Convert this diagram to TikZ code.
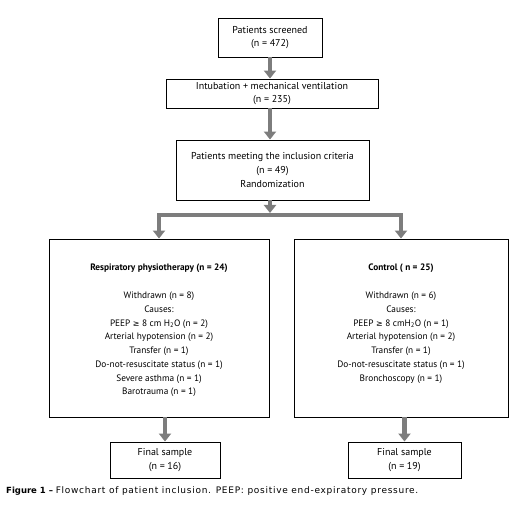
\documentclass[tikz,border=0pt]{standalone}
\usepackage{fontspec}
\setmainfont{PT Sans}
\newfontfamily\capfont[LetterSpace=8]{DejaVu Sans}
\newfontfamily\capbold{DejaVu Sans}
\newfontfamily\symfont{DejaVu Sans}
\usetikzlibrary{arrows.meta,calc}
\definecolor{arrgray}{RGB}{125,125,125}
\tikzset{
  box/.style={draw=black, line width=0.9pt, fill=white, inner sep=0pt, align=center, font=\fontsize{10}{13.8}\selectfont},
  txt/.style={inner sep=0pt, align=center, font=\fontsize{9.3}{13.7}\selectfont},
  garrow/.style={draw=arrgray, line width=4.5pt, line join=miter, -{Triangle[width=12pt,length=8pt]}},
}
\newcommand{\gesym}{{\symfont\fontsize{8}{10}\selectfont ≥}}
\begin{document}
\begin{tikzpicture}[x=1pt,y=-1pt]
\useasboundingbox (0,0) rectangle (517,513);
\node[box, minimum width=104pt, minimum height=39pt] (b1) at (270,37.5) {Patients screened\\(n = 472)};
\node[box, minimum width=212pt, minimum height=29pt] (b2) at (272,93.5) {Intubation + mechanical ventilation\\(n = 235)};
\node[box, minimum width=193pt, minimum height=60pt] (b3) at (272.5,170) {Patients meeting the inclusion criteria\\(n = 49)\\Randomization};
\node[box, minimum width=220pt, minimum height=178pt] (L) at (159,328) {};
\node[box, minimum width=214pt, minimum height=178pt] (R) at (401,328) {};
\node[box, minimum width=110pt, minimum height=36pt] (F1) at (165,460) {Final sample\\(n = 16)};
\node[box, minimum width=113pt, minimum height=36pt] (F2) at (404.5,460) {Final sample\\(n = 19)};

\node[txt, font=\fontsize{9.3}{13.7}\selectfont\bfseries] (Lt) at (159,268) {Respiratory physiotherapy (n = 24)};
\node[txt, anchor=north] (Ll) at (159,292) {Withdrawn (n = 8)\\Causes:\\PEEP \gesym\ 8 cm H\textsubscript{2}O (n = 2)\\Arterial hypotension (n = 2)\\Transfer (n = 1)\\Do-not-resuscitate status (n = 1)\\Severe asthma (n = 1)\\Barotrauma (n = 1)};
\node[txt, font=\fontsize{9.3}{13.7}\selectfont\bfseries] (Rt) at (401,268) {Control ( n = 25)};
\node[txt, anchor=north] (Rl) at (401,292) {Withdrawn (n = 6)\\Causes:\\PEEP \gesym\ 8 cmH\textsubscript{2}O (n = 1)\\Arterial hypotension (n = 2)\\Transfer (n = 1)\\Do-not-resuscitate status (n = 1)\\Bronchoscopy (n = 1)};

\coordinate (barM) at (270,215);
\coordinate (barTop) at (270,213);
\draw[garrow] (b1.south -| barM) -- (b2.north -| barM);
\draw[garrow] (b2.south -| barM) -- (b3.north -| barM);
\draw[garrow] (b3.south -| barM) -- (barTop);
\draw[garrow] (barM) -| (L.north);
\draw[garrow] (barM) -| (R.north);
\draw[garrow] (L.south -| F1.north) -- (F1.north);
\draw[garrow] (R.south -| F2.north) -- (F2.north);

\node[anchor=west, inner sep=0pt] (cap) at (6,491) {{\capbold\fontsize{8.5}{10}\selectfont\bfseries Figure 1 –} {\capfont\fontsize{9}{10}\selectfont Flowchart of patient inclusion. PEEP: positive end-expiratory pressure.}};
\end{tikzpicture}
\end{document}
